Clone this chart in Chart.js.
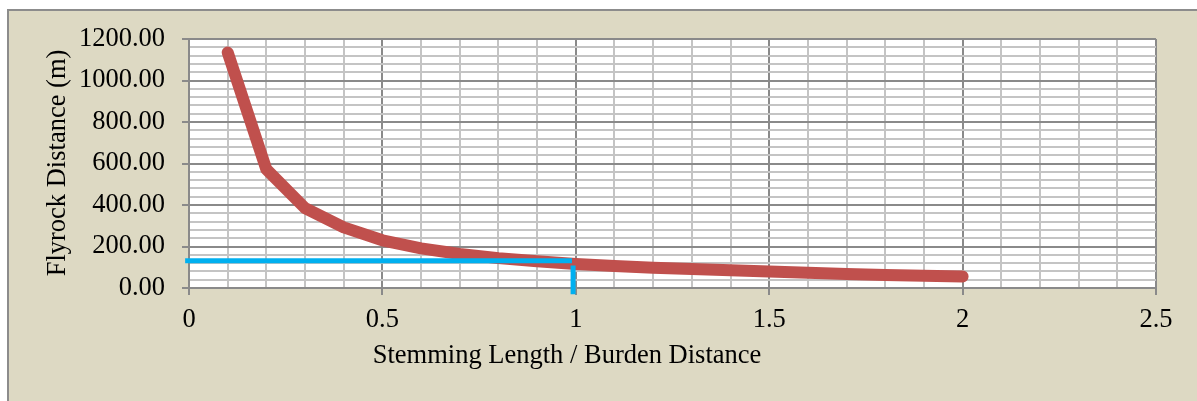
<!DOCTYPE html>
<html>
<head>
<meta charset="utf-8">
<script src="https://cdn.jsdelivr.net/npm/chart.js@4/dist/chart.umd.min.js"></script>
<style>
  html, body { margin: 0; padding: 0; background: #ffffff; }
  #wrap { width: 1197px; height: 401px; position: relative; }
</style>
</head>
<body>
<div id="wrap"><canvas id="grafico"></canvas></div>
<script>
// Dados
const razaoTampao = [0.1, 0.2, 0.3, 0.4, 0.5, 0.6, 0.7, 0.8, 0.9, 1.0,
                     1.1, 1.2, 1.3, 1.4, 1.5, 1.6, 1.7, 1.8, 1.9, 2.0];
const distanciaFlyrock = [1135, 572, 385, 292, 230, 191, 164, 144, 129, 116,
                          106, 98, 91, 85, 79, 73, 68, 63, 59, 56];

// Linhas azuis de referência (leitura em x = 1)
const refHorizX = [-0.01, 0.99];
const refHorizY = [131, 131];
const refVertX = [0.993, 0.993];
const refVertY = [109, -30];

const yTicksMajor = 200;
const xTicksMajor = 0.5;

const fonte = "'Liberation Serif', 'Times New Roman', serif";
const tamFonte = 26.5;

function pares(xs, ys) {
    return xs.map((x, i) => ({ x: x, y: ys[i] }));
}

function ehMaior(v, passo) {
    const r = v / passo;
    return Math.abs(r - Math.round(r)) < 1e-6;
}

// Plugin para fundo bege e títulos dos eixos
const fundoPlugin = {
    id: 'fundo',
    beforeDraw(chart) {
        const ctx = chart.ctx;
        ctx.save();
        ctx.fillStyle = '#ffffff';
        ctx.fillRect(0, 0, chart.width, chart.height);
        ctx.fillStyle = '#DDD9C3';
        ctx.fillRect(7, 9, chart.width, chart.height);
        ctx.strokeStyle = '#8c8c8c';
        ctx.lineWidth = 2;
        ctx.beginPath();
        ctx.moveTo(8, chart.height);
        ctx.lineTo(8, 10);
        ctx.lineTo(chart.width, 10);
        ctx.stroke();
        const area = chart.chartArea;
        ctx.fillStyle = '#ffffff';
        ctx.fillRect(area.left, area.top, area.right - area.left, area.bottom - area.top);
        ctx.restore();
    },
    afterDraw(chart) {
        const ctx = chart.ctx;
        ctx.save();
        ctx.fillStyle = '#000000';
        ctx.font = tamFonte + 'px ' + fonte;
        ctx.textAlign = 'center';
        ctx.textBaseline = 'middle';
        ctx.fillText('Stemming Length / Burden Distance', 567, 356);
        ctx.translate(58, 163);
        ctx.rotate(-Math.PI / 2);
        ctx.fillText('Flyrock Distance (m)', 0, 0);
        ctx.restore();
    }
};

var div = document.getElementById('grafico');
const data = {
    datasets: [{
        label: 'Flyrock',
        data: pares(razaoTampao, distanciaFlyrock),
        borderColor: '#C0504D',
        borderWidth: 12,
        borderCapStyle: 'round',
        borderJoinStyle: 'round',
        showLine: true,
        pointRadius: 0,
        order: 2
    }, {
        label: 'ref horizontal',
        data: pares(refHorizX, refHorizY),
        borderColor: '#00B0F0',
        borderWidth: 5,
        showLine: true,
        pointRadius: 0,
        clip: false,
        order: 1
    }, {
        label: 'ref vertical',
        data: pares(refVertX, refVertY),
        borderColor: '#00B0F0',
        borderWidth: 5,
        showLine: true,
        pointRadius: 0,
        clip: false,
        order: 1
    }]
};

const config = {
    type: 'scatter',
    data: data,
    options: {
        responsive: true,
        maintainAspectRatio: false,
        animation: false,
        layout: { padding: { left: 0, top: 39, right: 41, bottom: 0 } },
        plugins: {
            legend: { display: false },
            tooltip: { enabled: false }
        },
        scales: {
            x: {
                type: 'linear',
                min: 0,
                max: 2.5,
                afterFit(scale) { scale.height = 113; },
                ticks: {
                    stepSize: 0.1,
                    autoSkip: false,
                    maxRotation: 0,
                    padding: 9,
                    color: '#000000',
                    font: { family: fonte, size: tamFonte },
                    callback: v => ehMaior(v, xTicksMajor) ? String(Math.round(v * 10) / 10) : ''
                },
                grid: {
                    lineWidth: 2,
                    tickLength: 7,
                    color: c => ehMaior(c.tick.value, xTicksMajor) ? '#8a8a8a' : '#c4c4c4',
                    tickColor: c => ehMaior(c.tick.value, xTicksMajor) ? '#8a8a8a' : 'rgba(0,0,0,0)'
                },
                border: { color: '#8a8a8a', width: 2 }
            },
            y: {
                min: 0,
                max: 1200,
                afterFit(scale) { scale.width = 189; },
                ticks: {
                    stepSize: 40,
                    autoSkip: false,
                    padding: 17,
                    color: '#000000',
                    font: { family: fonte, size: tamFonte },
                    callback: v => ehMaior(v, yTicksMajor) ? v.toFixed(2) : ''
                },
                grid: {
                    lineWidth: 2,
                    tickLength: 7,
                    color: c => ehMaior(c.tick.value, yTicksMajor) ? '#8a8a8a' : '#c4c4c4',
                    tickColor: c => ehMaior(c.tick.value, yTicksMajor) ? '#8a8a8a' : 'rgba(0,0,0,0)'
                },
                border: { color: '#8a8a8a', width: 2 }
            }
        }
    },
    plugins: [fundoPlugin]
};
const grafico = new Chart(div, config);
</script>
</body>
</html>
